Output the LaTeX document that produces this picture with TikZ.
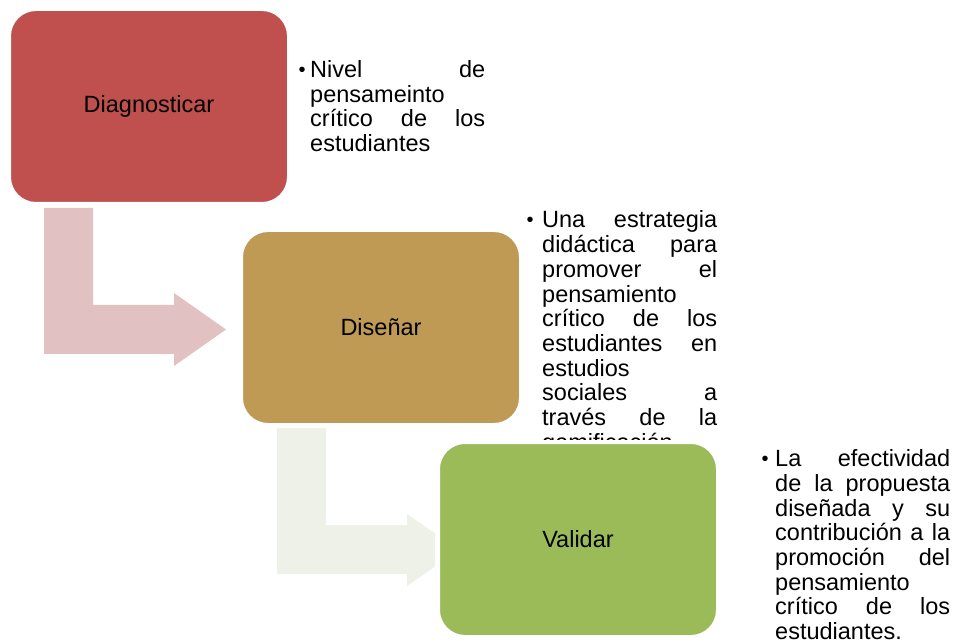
\documentclass[tikz,border=0pt]{standalone}
\usepackage{fontspec}
\setmainfont{Liberation Sans}
\definecolor{redbox}{HTML}{C0504D}
\definecolor{goldbox}{HTML}{BF9A55}
\definecolor{greenbox}{HTML}{9BBB59}
\definecolor{pinkarrow}{HTML}{E2C1C2}
\definecolor{palearrow}{HTML}{EEF1E8}
\newcommand\bodyfont{\fontsize{23.5}{24.7}\selectfont}
\newcommand\tline[1]{\hbox to\hsize{#1}}
\newcommand\colblock[1]{\vtop{\hsize=175pt\baselineskip=24.7pt #1}}
\begin{document}
\begin{tikzpicture}[x=1pt,y=-1pt,
  stepbox/.style={rounded corners=27.5pt, draw=white, line width=5pt,
    minimum width=281pt, minimum height=196pt, inner sep=0pt,
    font=\bodyfont, text=black},
  bodytext/.style={anchor=base west, inner sep=0pt, font=\bodyfont},
  bul/.style={anchor=base, inner sep=0pt, font=\fontsize{20}{20}\selectfont}]
\useasboundingbox[fill=white] (0,0) rectangle (956,644);
% bent arrows
\fill[pinkarrow] (44,208) -- (93,208) -- (93,305) -- (174,305) -- (174,293)
  -- (226,329.5) -- (174,366) -- (174,354) -- (44,354) -- cycle;
\fill[palearrow] (277,427) -- (326,427) -- (326,525) -- (407,525) -- (407,514)
  -- (459,550) -- (407,586) -- (407,574) -- (277,574) -- cycle;
% boxes
\node[stepbox, fill=redbox] (diag) at (149,106.5) {Diagnosticar};
\node[stepbox, fill=goldbox] (dis) at (381,327.5) {Diseñar};
\node[stepbox, fill=greenbox] (val) at (578,539.5) {Validar};
% texts
\node[bul] (b1) at (302,76.5) {\textbullet};
\node[bodytext] (t1) at (310,77.5) {\colblock{%
  \tline{Nivel\hfill de}
  \tline{pensameinto\hfill}
  \tline{crítico\hfill de\hfill los}
  \tline{estudiantes\hfill}}};
\node[bul] (b2) at (530,227) {\textbullet};
\begin{scope}
\clip (520,190) rectangle (740,439);
\node[bodytext] (t2) at (542,228) {\colblock{%
  \tline{Una\hfill estrategia}
  \tline{didáctica\hfill para}
  \tline{promover\hfill el}
  \tline{pensamiento\hfill}
  \tline{crítico\hfill de\hfill los}
  \tline{estudiantes\hfill en}
  \tline{estudios\hfill}
  \tline{sociales\hfill a}
  \tline{través\hfill de\hfill la}
  \tline{gamificación\hfill}}};
\end{scope}
\node[bul] (b3) at (765,465.7) {\textbullet};
\node[bodytext] (t3) at (775,466.7) {\colblock{%
  \tline{La\hfill efectividad}
  \tline{de\hfill la\hfill propuesta}
  \tline{diseñada\hfill y\hfill su}
  \tline{contribución\hfill a\hfill la}
  \tline{promoción\hfill del}
  \tline{pensamiento\hfill}
  \tline{crítico\hfill de\hfill los}
  \tline{estudiantes.\hfill}}};
\end{tikzpicture}
\end{document}
